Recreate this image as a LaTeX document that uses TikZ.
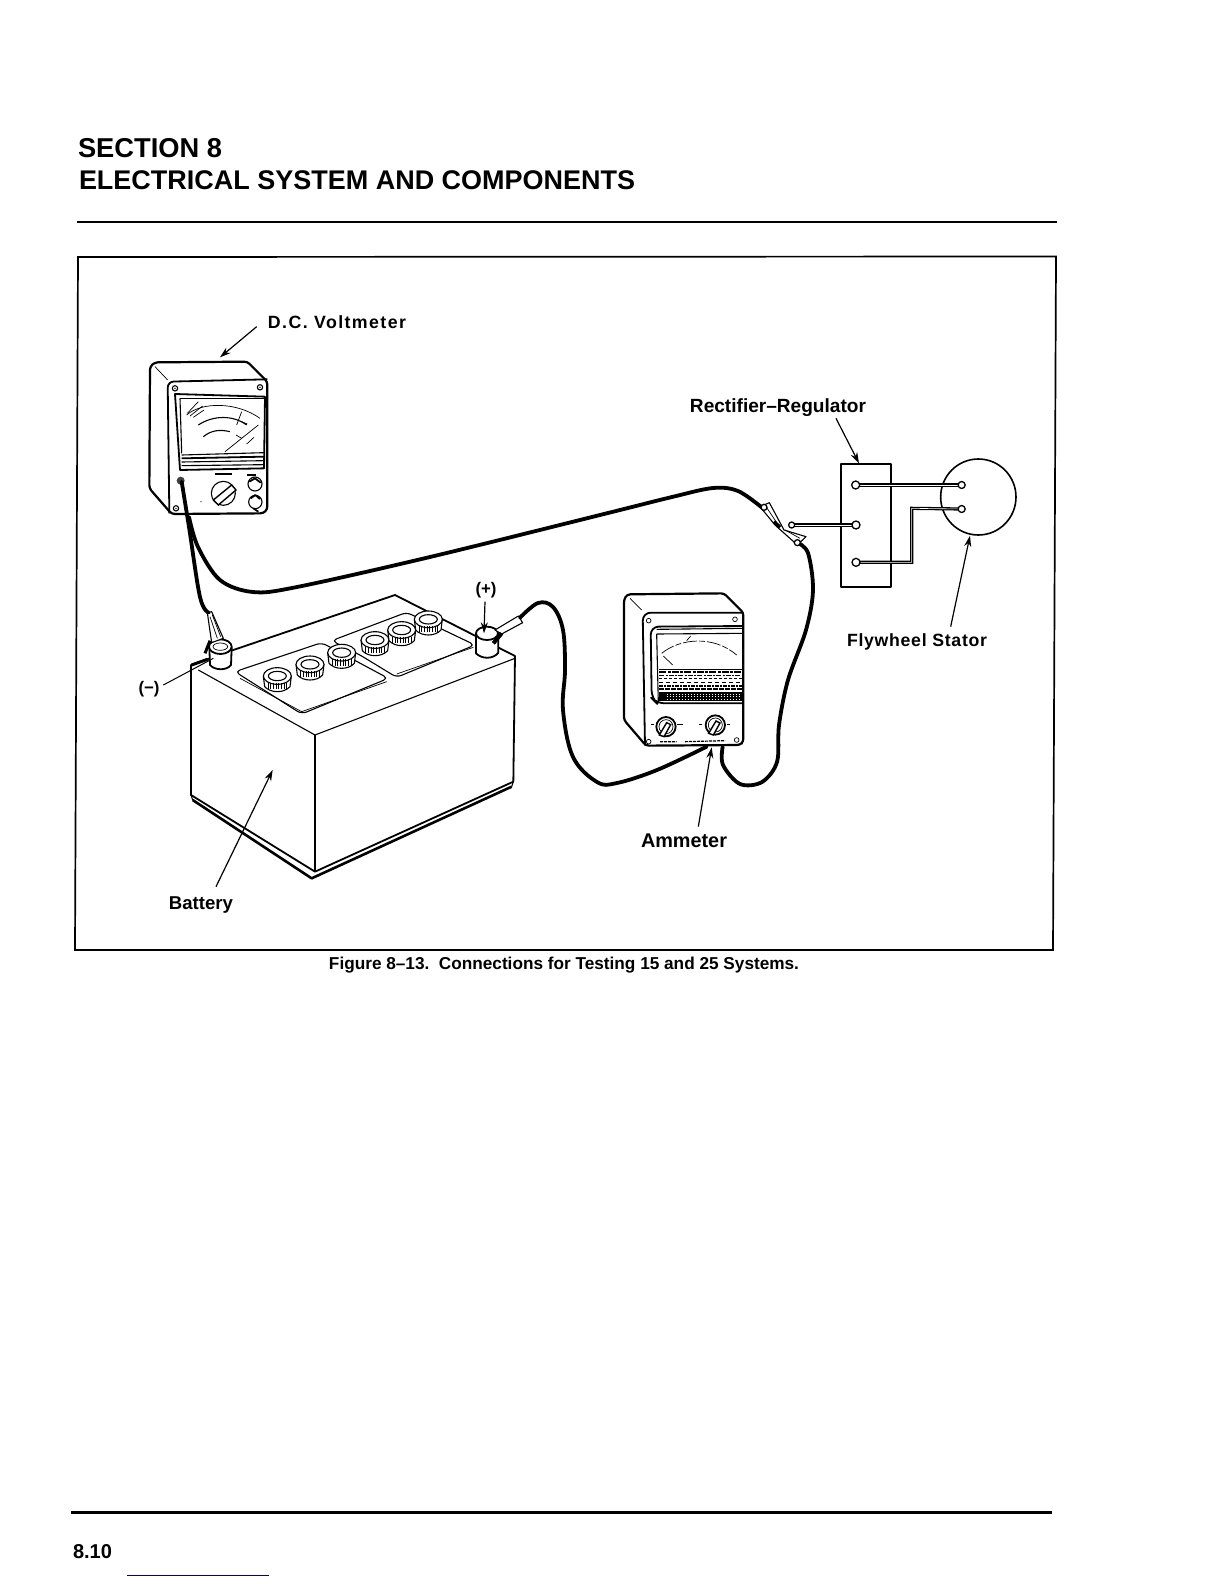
\documentclass[tikz,border=0pt]{standalone}
\usepackage{fontspec}
\usepackage{graphicx}
\usetikzlibrary{arrows.meta}
\setmainfont{Liberation Sans}
\newcommand{\fitw}[2]{\resizebox{#1pt}{!}{\bfseries #2}}
\tikzset{
  va/.style={x=.33333pt,y=-.33333pt,shift={(130pt,-300pt)}},
  vb/.style={x=.33333pt,y=-.33333pt,shift={(130pt,-570pt)}},
  vc/.style={x=.33333pt,y=-.33333pt,shift={(540pt,-570pt)}},
  vd/.style={x=.33333pt,y=-.33333pt,shift={(680pt,-390pt)}},
  lab/.style={inner sep=0pt,outer sep=0pt,text=black},
  wire/.style={line width=3.8pt,line cap=round,line join=round},
  leader/.style={line width=1.2pt,-{Stealth[length=11pt,width=7pt]}},
  rule/.style={line width=2pt},
  frameline/.style={line width=1.7pt},
  heavy/.style={line width=1.8pt,line join=round},
  med/.style={line width=1.1pt,line join=round},
  fine/.style={line width=.7pt},
  lead/.style={line width=1.3pt,double=white,double distance=.6pt},
  term/.style={draw,fill=white,line width=1.3pt,circle,inner sep=0pt,minimum size=8pt},
}
\begin{document}
\begin{tikzpicture}[x=1pt,y=-1pt]
\useasboundingbox (0,0) rectangle (1224,1584);
\fill[white] (0,0) rectangle (1224,1584);
% page furniture
\node[lab,anchor=west] (sec) at (78,148) {\fitw{144}{SECTION 8}};
\node[lab,anchor=west] (ttl) at (79,180) {\fitw{556}{ELECTRICAL SYSTEM AND COMPONENTS}};
\draw[rule] (77,222) -- (1057,222);
\draw[frameline] (78,257) -- (1056,256.5) -- (1053,950) -- (75,950) -- cycle;
\node[lab] (cap) at (564,965.5) {\fitw{470}{Figure 8–13.\ \ Connections for Testing 15 and 25 Systems.}};
\draw[rule,line width=2.6pt] (71,1512.5) -- (1052,1512.5);
\node[lab,anchor=west] (pg) at (73,1552) {\fitw{39}{8.10}};
\draw[line width=1pt,color=blue!55!black] (127,1575) -- (269,1575);

% ---------- battery ----------
\begin{scope}[vb]
\draw[heavy,fill=white] (183,285) -- (183,675) -- (555,905) -- (1150,635) -- (1155,258) -- (795,75) -- (310,240) -- cycle;
\draw[med] (205,300) -- (555,495) -- (1155,265);
\draw[med] (555,495) -- (555,905);
\draw[line width=2.6pt,line join=round] (188,690) -- (545,925) -- (1145,650);
\draw[med] (183,675) -- (188,690) (1150,635) -- (1145,650);
% plates
\draw[med,rounded corners=5pt] (315,305) -- (575,218) -- (775,325) -- (515,432) -- cycle;
\draw[fine] (330,325) -- (515,425) -- (770,335);
\draw[med,rounded corners=5pt] (690,255) -- (605,212) -- (830,127) -- (1035,225) -- (800,322) -- cycle;
\draw[fine] (800,312) -- (1030,232);
% cells
\foreach \cx/\cy in {442/330,540/295,635/260,735/222,815/192,895/160}{
  \draw[med,fill=white] (\cx-42,\cy-12) -- (\cx-38,\cy+20) .. controls (\cx-20,\cy+40) and (\cx+20,\cy+40) .. (\cx+38,\cy+20) -- (\cx+42,\cy-12);
  \draw[med,fill=white] (\cx,\cy-12) ellipse [x radius=42,y radius=25];
  \draw[med] (\cx,\cy-12) ellipse [x radius=27,y radius=14];
  \foreach \k in {-28,-20,-12,-4,4,12,20,28}{\draw[fine] (\cx+\k,\cy+8) -- (\cx+\k,\cy+27);}
}
% posts
\draw[heavy,fill=white] (238,232) -- (240,285) .. controls (255,302) and (290,302) .. (303,285) -- (305,232);
\draw[heavy,fill=white] (271,230) ellipse [x radius=34,y radius=22];
\draw[fine] (271,230) ellipse [x radius=22,y radius=11];
\draw[heavy,fill=white] (1038,190) -- (1038,250) .. controls (1055,268) and (1090,268) .. (1105,248) -- (1105,190);
\draw[heavy,fill=white] (1071,190) ellipse [x radius=33,y radius=20];
% clips at posts
\draw[med,fill=white] (232,128) -- (245,125) -- (280,205) -- (245,218) -- cycle;
\draw[fine] (240,140) -- (262,205) (247,135) -- (272,200);
\draw[line width=3pt] (240,212) -- (225,250);
\draw[line width=3pt] (232,268) -- (185,285);
\draw[med,fill=white] (1095,180) -- (1165,138) -- (1178,158) -- (1115,192) -- cycle;
\draw[line width=4pt] (1090,220) -- (1115,190);
\coordinate (minusClip) at (236,128);
\coordinate (plusClip) at (1170,143);
\end{scope}

% ---------- voltmeter ----------
\begin{scope}[va]
\draw[line width=2.2pt,line join=round,fill=white,rounded corners=3pt] (60,200) -- (75,187) -- (352,185) -- (412,245) -- (412,628) -- (400,640) -- (125,642) -- (58,565) -- cycle;
\draw[heavy,rounded corners=6pt] (118,640) -- (113,245) -- (412,238);
\draw[fine] (75,200) -- (113,240);
\draw[heavy] (135,282) -- (405,290) -- (402,505) -- (150,510) -- cycle;
\draw[med] (150,295) -- (405,295);
\draw[med] (150,295) -- (155,460);
\draw[med] (155,465) -- (403,458);
\draw[line width=1.8pt] (155,475) -- (402,470);
\draw[med] (155,486) -- (402,482) (155,497) -- (402,494);
\draw[fine] (170,345) .. controls (215,305) and (320,305) .. (390,355);
\draw[med] (205,375) .. controls (250,345) and (310,345) .. (350,375);
\draw[med] (220,410) .. controls (245,390) and (270,388) .. (300,395);
\draw[fine] (285,455) -- (385,375);
\draw[fine] (172,340) -- (205,305) (180,348) -- (218,318) (190,352) -- (222,330);
\draw[fine] (350,432) -- (372,412) (320,375) -- (335,335) (335,365) -- (352,372) (318,405) -- (335,415);
\foreach \sx/\sy in {135/265,390/262,138/625}{
  \draw[med,fill=white] (\sx,\sy) circle [radius=8];
  \fill (\sx,\sy) circle [radius=2.5];
}
\draw[med,fill=white] (280,580) circle [radius=36];
\draw[line width=1.4pt,fill=white] (250,600) -- (305,555) -- (318,570) -- (265,615) -- cycle;
\draw[med] (255,522) -- (305,522) (352,525) -- (378,525);
\draw[med,fill=white] (375,552) circle [radius=21];
\draw[heavy] (358,545) -- (375,535) -- (392,548);
\draw[med,fill=white] (376,606) circle [radius=20];
\draw[heavy] (362,595) -- (376,585) -- (390,597);
\draw[heavy] (370,625) -- (385,635);
\fill (213,605) circle [radius=2];
\coordinate (vmT) at (155,545);
\fill[black!75] (152,542) circle [radius=12];
\end{scope}

% ---------- ammeter ----------
\begin{scope}[vc]
\draw[line width=2.2pt,line join=round,fill=white,rounded corners=3pt] (252,88) -- (262,73) -- (552,70) -- (610,128) -- (610,515) -- (600,525) -- (318,527) -- (252,450) -- cycle;
\draw[heavy,rounded corners=8pt] (315,527) -- (308,128) -- (610,128);
\draw[fine] (270,85) -- (305,120);
\draw[heavy,rounded corners=8pt] (610,168) -- (332,170) -- (335,385) -- (350,400) -- (610,400);
\draw[med] (350,178) -- (610,175) (350,192) -- (610,190) (350,192) -- (355,400);
\draw[fine,dash pattern=on 14pt off 2pt on 6pt off 2pt] (365,250) .. controls (420,205) and (520,195) .. (590,255);
\draw[fine] (370,258) -- (398,285) (440,212) -- (452,198);
\foreach \sx/\sy in {326/152,585/148,326/515,590/510}{
  \draw[fine,fill=white] (\sx,\sy) circle [radius=7];
}
\draw[line width=1.2pt] (358,298) -- (606,298);
\draw[line width=2pt,dash pattern=on 7pt off 1.5pt on 3pt off 1pt] (358,306) -- (606,306);
\draw[line width=1.3pt,dash pattern=on 5pt off 1.5pt on 2pt off 1pt] (358,316) -- (606,316);
\draw[line width=1pt,dash pattern=on 3pt off 2pt] (358,326) -- (606,326);
\draw[line width=1.3pt,dash pattern=on 4pt off 3pt] (358,338) -- (606,338);
\draw[line width=2pt,dash pattern=on 4pt off 1pt on 2pt off 1pt] (358,348) -- (606,348);
\draw[line width=2pt,dash pattern=on 5pt off 1pt] (358,357) -- (606,357);
\fill (358,365) rectangle (608,394);
\draw[white,line width=.5pt,dash pattern=on 1.5pt off 1.5pt] (380,372) -- (604,372) (380,380) -- (604,380) (380,388) -- (604,388);
\foreach \kx/\ky in {378/470,526/465}{
  \draw[heavy,fill=white] (\kx,\ky) circle [radius=29];
  \draw[fine] (\kx,\ky) circle [radius=21];
  \draw[line width=1.4pt,fill=white] (\kx-20,\ky+25) -- (\kx+2,\ky-12) -- (\kx+14,\ky-6) -- (\kx-6,\ky+30) -- cycle;
}
\draw[med] (332,463) -- (342,463) (412,463) -- (430,463) (478,463) -- (486,463) (560,463) -- (570,463);
\draw[line width=1.2pt,dash pattern=on 3pt off 1pt] (360,515) -- (410,515) (435,515) -- (555,512);
\coordinate (amL) at (500,530);
\coordinate (amR) at (548,530);
\end{scope}

% ---------- rectifier and stator ----------
\begin{scope}[vd]
\draw[heavy] (482,222) rectangle (632,590);
\draw[line width=1.6pt] (895,321) circle [x radius=113,y radius=114];
\coordinate (t1) at (527,285);
\coordinate (t2) at (528,405);
\coordinate (t3) at (528,517);
\coordinate (s1) at (845,285);
\coordinate (s2) at (845,357);
\coordinate (b1) at (695,517);
\coordinate (b2) at (695,355);
\coordinate (clipT) at (335,405);
\draw[lead] (t1) -- (s1);
\draw[lead] (t2) -- (clipT);
\draw[lead] (t3) -- (b1) -- (b2) -- (s2);
\node[term] (n1) at (t1) {};
\node[term] (n2) at (t2) {};
\node[term] (n3) at (t3) {};
\node[term,minimum size=7pt] (n4) at (s1) {};
\node[term,minimum size=7pt] (n5) at (s2) {};
\coordinate (clipA) at (245,352);
\coordinate (clipB) at (352,458);
\end{scope}

% ---------- test leads ----------
\coordinate (wbA) at (189,517);
\draw[wire] plot[smooth,tension=.6] coordinates {(vmT) (189,527) (200,597) (minusClip)};
\draw[wire] plot[smooth,tension=.55] coordinates {(wbA) (198,547) (220,580) (253,592) (297,587) (430,557) (600,515) (672,497) (713,488) (738,491) (clipA)};
\draw[wire] plot[smooth,tension=.6] coordinates {(plusClip) (538,603) (553,607) (563,630) (565,670) (563,710) (573,757) (597,782) (617,783) (657,770) (amL)};
\draw[wire] plot[smooth,tension=.55] coordinates {(amR) (723,765) (740,784) (762,782) (777,762) (779,725) (788,680) (806,630) (813,590) (808,553) (clipB)};

% alligator clips at the regulator lead
\begin{scope}[vd]
\draw[med,fill=white] (240,350) -- (268,338) -- (312,420) -- (378,440) -- (352,465) -- (285,405) -- cycle;
\draw[line width=3.5pt] (282,395) -- (300,412);
\draw[fine] (255,345) -- (290,398) (315,420) -- (360,445);
\node[term,minimum size=6pt] (n6) at (335,405) {};
\node[term,minimum size=6pt] (n7) at (352,458) {};
\node[term,minimum size=6pt] (n8) at (252,352) {};
\end{scope}

% ---------- labels ----------
\node[lab] (lV) at (337,322.5) {\fitw{138}{\addfontfeatures{LetterSpace=8}D.C. Voltmeter}};
\node[lab] (lR) at (778,408) {\fitw{176}{Rectifier–Regulator}};
\node[lab] (lF) at (917,642) {\fitw{140}{\addfontfeatures{LetterSpace=4}Flywheel Stator}};
\node[lab] (lA) at (684,841) {\fitw{86}{Ammeter}};
\node[lab] (lB) at (201,905) {\fitw{64}{Battery}};
\node[lab] (lP) at (486,590) {\fitw{21}{(+)}};
\node[lab] (lM) at (149,689) {\fitw{21}{(−)}};

\begin{scope}[va]
\coordinate (a1) at (380,80); \coordinate (a2) at (270,172);
\end{scope}
\begin{scope}[vd]
\coordinate (a3) at (468,85); \coordinate (a4) at (537,220);
\coordinate (a5) at (812,710); \coordinate (a6) at (870,437);
\end{scope}
\begin{scope}[vc]
\coordinate (a7) at (475,770); \coordinate (a8) at (515,532);
\end{scope}
\begin{scope}[vb]
\coordinate (a9) at (258,950); \coordinate (a10) at (428,600);
\coordinate (a11) at (1065,95); \coordinate (a12) at (1062,190);
\coordinate (a13) at (100,345); \coordinate (a14) at (250,265);
\end{scope}
\draw[leader] (a1) -- (a2);
\draw[leader] (a3) -- (a4);
\draw[leader] (a5) -- (a6);
\draw[leader] (a7) -- (a8);
\draw[leader] (a9) -- (a10);
\draw[leader] (a11) -- (a12);
\draw[line width=1pt] (a13) -- (a14);
\end{tikzpicture}
\end{document}
